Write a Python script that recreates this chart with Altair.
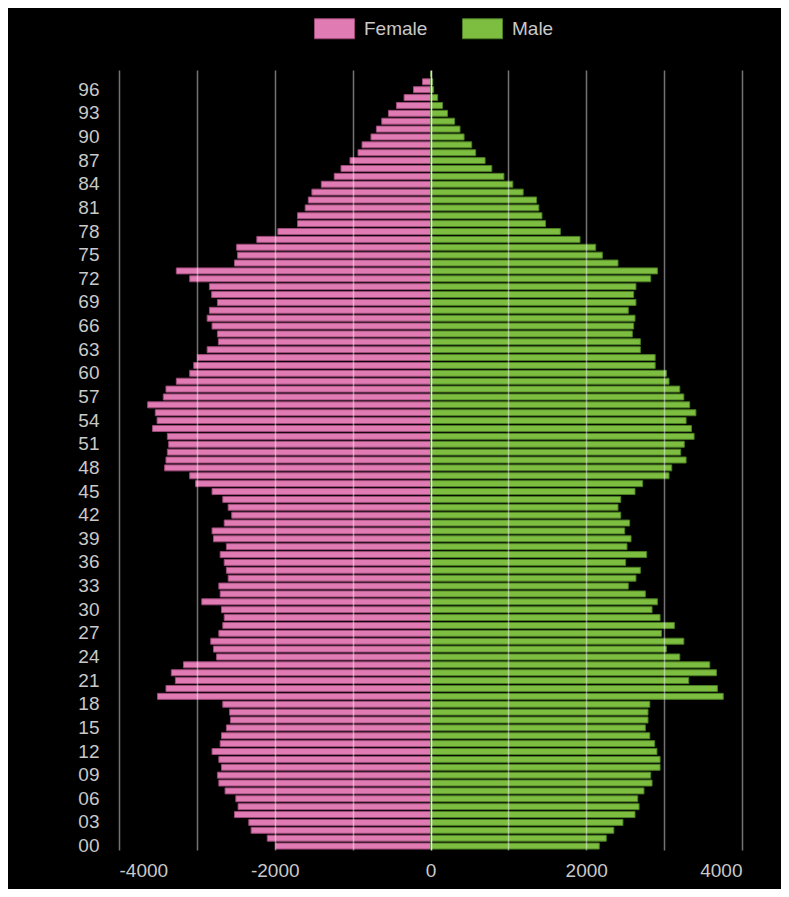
import altair as alt
import pandas as pd

ages = [f"{a:02d}" for a in range(0, 99)]

female = [1992, 2096, 2303, 2333, 2517, 2471, 2500, 2638, 2718, 2736,
          2684, 2718, 2805, 2701, 2684, 2621, 2569, 2580, 2667, 3506,
          3397, 3276, 3328, 3172, 2747, 2787, 2822, 2718, 2667, 2649,
          2684, 2937, 2701, 2718, 2598, 2621, 2649, 2701, 2621, 2787,
          2805, 2649, 2552, 2598, 2667, 2805, 3017, 3092, 3414, 3397,
          3379, 3362, 3379, 3569, 3511, 3534, 3632, 3431, 3397, 3264,
          3092, 3040, 2994, 2868, 2724, 2736, 2805, 2868, 2839, 2736,
          2810, 2839, 3092, 3264, 2517, 2477, 2489, 2230, 1960, 1707,
          1707, 1609, 1569, 1523, 1402, 1236, 1149, 1034, 931, 879,
          764, 695, 626, 540, 437, 339, 218, 103, 0]

male = [2167, 2257, 2354, 2471, 2626, 2678, 2661, 2741, 2845, 2828,
        2948, 2948, 2908, 2879, 2816, 2759, 2793, 2793, 2816, 3759,
        3684, 3316, 3672, 3586, 3201, 3029, 3253, 2966, 3132, 2948,
        2845, 2914, 2759, 2540, 2638, 2695, 2506, 2776, 2523, 2575,
        2494, 2557, 2443, 2408, 2443, 2626, 2724, 3063, 3098, 3282,
        3213, 3259, 3385, 3351, 3282, 3408, 3328, 3253, 3201, 3063,
        3029, 2885, 2885, 2695, 2695, 2592, 2609, 2626, 2540, 2638,
        2609, 2638, 2828, 2914, 2408, 2207, 2121, 1920, 1667, 1477,
        1431, 1391, 1362, 1190, 1057, 943, 787, 701, 580, 529,
        431, 379, 310, 218, 155, 92, 40, 29, 0]

series = ["Female", "Male"]
fill_colors = ["#e07bb3", "#7dbd40"]
stroke_colors = ["#9e4a7a", "#4c7f24"]

y_label_values = ages[::3]
x_grid_values = list(range(-4000, 4001, 1000))

rows = []
for a, f, m in zip(ages, female, male):
    rows.append({"age": a, "sex": "Female", "value": -f})
    rows.append({"age": a, "sex": "Male", "value": m})
df = pd.DataFrame(rows)

FONT = "Liberation Sans"
LABEL = "#c9c9c9"

legend = alt.Legend(
    title=None,
    orient="none",
    legendX=195,
    legendY=-62,
    direction="horizontal",
    symbolType="M-1,-0.5H1V0.5H-1Z",
    symbolSize=1600,
    symbolStrokeWidth=1,
    labelFont=FONT,
    labelFontSize=19,
    labelColor=LABEL,
    labelOffset=9,
    columnPadding=32,
    padding=0,
)

chart = alt.Chart(df).mark_bar(strokeWidth=1).encode(
    x=alt.X(
        "value:Q",
        scale=alt.Scale(domain=[-4000, 4000], nice=False, zero=False),
        axis=alt.Axis(
            title=None,
            values=x_grid_values,
            labelExpr="datum.value % 2000 == 0 ? '' + datum.value : ''",
            domain=False,
            ticks=False,
            grid=True,
            gridWidth=1.5,
            gridColor={"condition": {"test": "datum.value === 0", "value": "#f2f2f2"}, "value": "#ffffff"},
            gridOpacity={"condition": {"test": "datum.value === 0", "value": 0.9}, "value": 0.45},
            labelFont=FONT,
            labelFontSize=19,
            labelColor=LABEL,
            labelPadding=11,
            zindex=1,
        ),
    ),
    y=alt.Y(
        "age:O",
        sort="descending",
        scale=alt.Scale(domain=ages[::-1], paddingInner=0.24, paddingOuter=0.12),
        axis=alt.Axis(
            title=None,
            values=y_label_values,
            domain=False,
            ticks=False,
            grid=False,
            labelFont=FONT,
            labelFontSize=19,
            labelColor=LABEL,
            labelPadding=20,
        ),
    ),
    fill=alt.Fill("sex:N", scale=alt.Scale(domain=series, range=fill_colors), legend=legend),
    stroke=alt.Stroke("sex:N", scale=alt.Scale(domain=series, range=stroke_colors), legend=legend),
).properties(
    width=623,
    height=780,
    padding={"left": 111, "top": 62, "right": 39, "bottom": 39},
    autosize=alt.AutoSizeParams(type="none"),
    background="#000000",
).configure_view(stroke=None)

chart.save("out.html", embed_options={"renderer": "svg", "actions": False})
